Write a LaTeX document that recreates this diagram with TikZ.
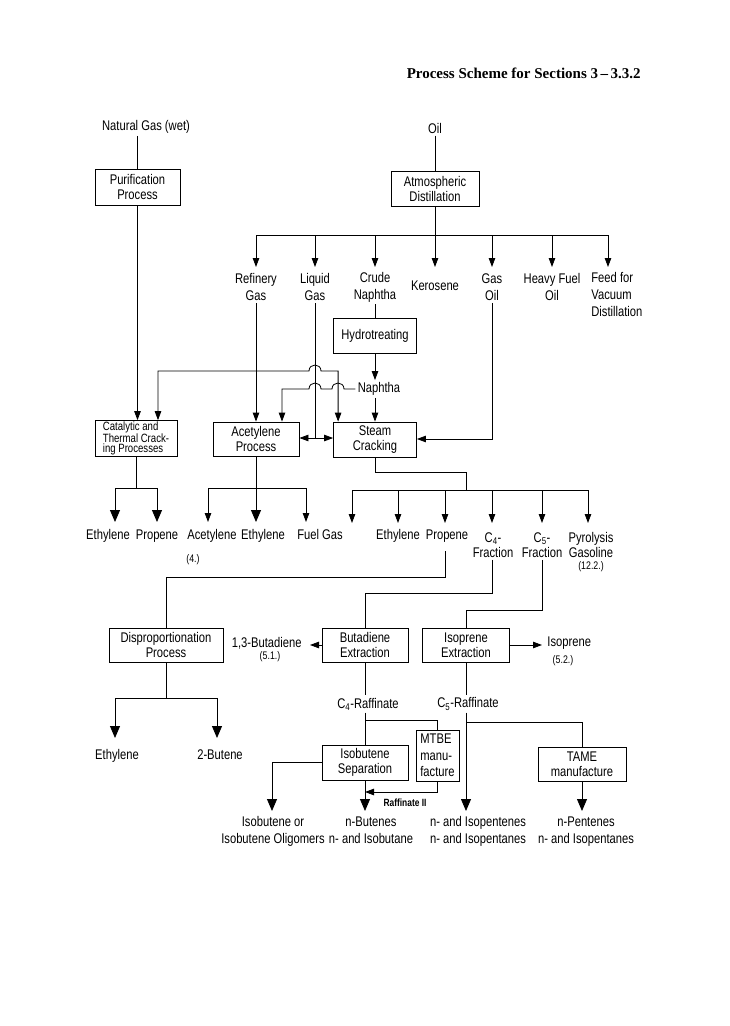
\documentclass[tikz,border=0pt]{standalone}
\usepackage{fontspec}
\setmainfont{Liberation Sans}[FakeStretch=0.8]
\newfontfamily\titlefont{Liberation Serif}
\usetikzlibrary{arrows.meta,calc}
\newcommand\labfont{\fontsize{14}{17}\selectfont}
\newcommand\boxfont{\fontsize{14}{15}\selectfont}
\newcommand\fracfont{\fontsize{14}{15}\selectfont}
\newcommand\catfont{\fontsize{12}{10.5}\selectfont}
\newcommand\reffont{\fontsize{11}{12}\selectfont}
\newcommand\mtbefont{\fontsize{14}{16.5}\selectfont}
\tikzset{
  arr/.style={-{Triangle[length=9pt,width=6.5pt]}},
  bigarr/.style={-{Triangle[length=12pt,width=10pt]}},
  dblarr/.style={{Triangle[length=9pt,width=6.5pt]}-{Triangle[length=9pt,width=6.5pt]}},
  box/.style={draw, inner sep=1pt, align=center, font=\boxfont},
  lab/.style={inner sep=2pt, align=center, font=\labfont},
  rowlab/.style={inner sep=2pt, font=\labfont, anchor=base},
  reflab/.style={inner sep=1pt, font=\reffont},
}
\begin{document}
\begin{tikzpicture}[x=1pt,y=-1pt,line width=0.8pt]
\useasboundingbox (0,0) rectangle (729,1026);
\node[anchor=east,inner sep=0pt,font=\titlefont\bfseries\fontsize{15}{18}\selectfont] (title) at (641,73) {Process Scheme for Sections 3\,–\,3.3.2};

% sources
\node[lab] (ng) at (146,127) {Natural Gas (wet)};
\node[lab] (oil) at (435,128) {Oil};
\node[box,minimum width=85,minimum height=36] (pur) at (137.5,187) {Purification\\Process};
\node[box,minimum width=88,minimum height=35] (atm) at (435,188.5) {Atmospheric\\Distillation};
\draw (ng.south -| pur.north) -- (pur.north);
\draw (oil) -- (atm);

% distillation products
\node[lab] (rg) at (256,287) {Refinery\\Gas};
\node[lab] (lg) at (315,287) {Liquid\\Gas};
\node[lab] (cn) at (375,287) {Crude\\Naphtha};
\node[lab] (ker) at (435,286) {Kerosene};
\node[lab] (go) at (492,287) {Gas\\Oil};
\node[lab] (hfo) at (552,287) {Heavy Fuel\\Oil};
\node[lab,align=left,anchor=north west] (ffv) at (589,270) {Feed for\\Vacuum\\Distillation};
\coordinate (dj) at (435,235);
\coordinate (fft) at (608,267);
\draw (atm.south) -- (dj);
\draw (rg.north |- dj) -- (fft |- dj);
\foreach \n in {rg,lg,cn,go,hfo} \draw[arr] (\n.north |- dj) -- (\n.north |- fft);
\draw[arr] (dj) -- (ker.north |- fft);
\draw[arr] (fft |- dj) -- (fft);

% processes
\node[box,minimum width=83,minimum height=35] (hyd) at (375,335.5) {Hydrotreating};
\node[box,font=\catfont,align=left,minimum width=82,minimum height=33] (cat) at (136,438.5) {Catalytic and\\Thermal Crack-\\ing Processes};
\node[box,minimum width=86,minimum height=34] (acp) at (256,439) {Acetylene\\Process};
\node[box,minimum width=83,minimum height=35] (stc) at (375,439.5) {Steam\\Cracking};
\node[lab] (nap) at (379,389) {Naphtha};

\draw (cn.south) -- (hyd.north);
\draw[arr] (hyd.south) -- (nap.north -| hyd.south);
\draw[arr] (nap.south -| stc.north) -- (stc.north);
\draw[arr] (pur.south) -- (cat.north -| pur.south);
\draw[arr] (rg.south) -- (acp.north);
\coordinate (lgj) at (315,438);
\draw (lg.south) -- (lgj);
\draw[arr] (lgj) -- (acp.east |- lgj);
\draw[arr] (lgj) -- (stc.west |- lgj);
\coordinate (goj) at (492,439);
\draw[arr] (go.south) -- (goj) -- (stc.east |- goj);

% naphtha to acetylene process (with hops)
\coordinate (acpin) at ($(acp.north)+(26,0)$);
\draw[arr] (nap.west) -- (344,389) .. controls (344,381) and (332,381) .. (332,389) -- (321,389) .. controls (321,381) and (309,381) .. (309,389) -- (acpin |- nap.west) -- (acpin);

% catalytic <-> steam cracking line
\coordinate (catin) at ($(cat.north)+(22,0)$);
\coordinate (stcin) at ($(stc.north west)+(5,0)$);
\coordinate (h1) at (0,371);
\draw[dblarr] (catin) -- (catin |- h1) -- (309,371) .. controls (309,363) and (321,363) .. (321,371) -- (stcin |- h1) -- (stcin);

% product row
\node[rowlab] (eth1) at (108,539) {Ethylene};
\node[rowlab] (pro1) at (157,539) {Propene};
\node[rowlab] (acet) at (212,539) {Acetylene};
\node[rowlab] (eth2) at (263,539) {Ethylene};
\node[rowlab] (fuel) at (320,539) {Fuel Gas};
\node[rowlab] (eth3) at (398,539) {Ethylene};
\node[rowlab] (pro2) at (447,539) {Propene};
\node[lab,font=\fracfont] (c4f) at (493,545) {C\textsubscript{4}-\\Fraction};
\node[lab,font=\fracfont] (c5f) at (542,545) {C\textsubscript{5}-\\Fraction};
\node[lab,font=\fracfont] (pyr) at (591,545) {Pyrolysis\\Gasoline};
\node[reflab] (r4) at (193,560) {(4.)};
\node[reflab] (r122) at (591,567) {(12.2.)};

\coordinate (r1) at (0,488);
\coordinate (a-eth1) at (115,522);
\coordinate (a-pro1) at (157,522);
\coordinate (a-acet) at (208,522);
\coordinate (a-eth2) at (256,522);
\coordinate (a-fuel1) at (306,522);
\draw (cat.south) -- (cat.south |- r1);
\draw (a-eth1 |- r1) -- (a-pro1 |- r1);
\draw[bigarr] (a-eth1 |- r1) -- (a-eth1);
\draw[bigarr] (a-pro1 |- r1) -- (a-pro1);
\draw (acp.south) -- (acp.south |- r1);
\draw (a-acet |- r1) -- (a-fuel1 |- r1);
\draw[arr] (a-acet |- r1) -- (a-acet);
\draw[bigarr] (a-eth2 |- r1) -- (a-eth2);
\draw[arr] (a-fuel1 |- r1) -- (a-fuel1);

\coordinate (s1) at (466,472);
\coordinate (r2) at (0,490);
\coordinate (a-fuel2) at (352,523);
\coordinate (a-eth3) at (398,523);
\coordinate (a-pro2) at (445,523);
\coordinate (a-c4) at (492,523);
\coordinate (a-c5) at (542,523);
\coordinate (a-pyr) at (588,523);
\draw (stc.south) -- (stc.south |- s1) -- (s1) -- (s1 |- r2);
\draw (a-fuel2 |- r2) -- (a-pyr |- r2);
\foreach \n in {fuel2,eth3,pro2,c4,c5,pyr} \draw[arr] (a-\n |- r2) -- (a-\n);

% second stage
\node[box,minimum width=114,minimum height=34] (dis) at (166,645) {Disproportionation\\Process};
\node[box,minimum width=86,minimum height=34] (but) at (365,645) {Butadiene\\Extraction};
\node[box,minimum width=87,minimum height=34] (iso) at (466,645) {Isoprene\\Extraction};
\coordinate (p2) at (445,577);
\draw[shorten <=7pt] (pro2.south -| p2) -- (p2) -- (p2 -| dis.north) -- (dis.north);
\coordinate (c4j) at (492,593);
\draw (c4f.south -| c4j) -- (c4j) -- (c4j -| but.north) -- (but.north);
\coordinate (c5j) at (542,610);
\draw (c5f.south -| c5j) -- (c5j) -- (c5j -| iso.north) -- (iso.north);

\node[lab,anchor=east] (bd) at (304,643) {1,3-Butadiene};
\node[reflab] (r51) at (270,657) {(5.1.)};
\coordinate (bdt) at (310,645);
\draw[arr] (but.west) -- (bdt);
\node[lab,anchor=west] (isop) at (545,643) {Isoprene};
\node[reflab] (r52) at (563,661) {(5.2.)};
\coordinate (isot) at (542,645);
\draw[arr] (iso.east) -- (isot);

% disproportionation outputs
\coordinate (r3) at (0,698);
\coordinate (a-eth4) at (115,738);
\coordinate (a-bute) at (217,738);
\draw (dis.south) -- (dis.south |- r3);
\draw (a-eth4 |- r3) -- (a-bute |- r3);
\draw[bigarr] (a-eth4 |- r3) -- (a-eth4);
\draw[bigarr] (a-bute |- r3) -- (a-bute);
\node[rowlab] (eth4) at (117,759) {Ethylene};
\node[rowlab] (bute) at (220,759) {2-Butene};

% raffinates
\node[lab] (c4r) at (368,704) {C\textsubscript{4}-Raffinate};
\node[lab] (c5r) at (468,704) {C\textsubscript{5}-Raffinate};
\node[box,minimum width=86,minimum height=35] (ibs) at (365,762.5) {Isobutene\\Separation};
\node[box,font=\mtbefont,align=left,minimum width=43,minimum height=51] (mtbe) at (437.5,755.5) {MTBE\\manu-\\facture};
\node[box,minimum width=88,minimum height=34] (tame) at (582,764) {TAME\\manufacture};

\draw (but.south) -- (but.south |- c4r.north);
\draw (but.south |- c4r.south) -- (ibs.north);
\coordinate (mj) at (0,720);
\draw (ibs.north |- mj) -- (mtbe.north |- mj) -- (mtbe.north);
\draw (iso.south) -- (iso.south |- c5r.north);
\coordinate (tj) at (0,722);
\draw (iso.south |- tj) -- (tame.north |- tj) -- (tame.north);

% final products
\node[lab,anchor=north] (ibo) at (273,814) {Isobutene or\\Isobutene Oligomers};
\node[lab,anchor=north] (nbut) at (371,814) {n-Butenes\\n- and Isobutane};
\node[lab,anchor=north] (nisop) at (478,814) {n- and Isopentenes\\n- and Isopentanes};
\node[lab,anchor=north] (npent) at (586,814) {n-Pentenes\\n- and Isopentanes};

\coordinate (ibl) at (272,0);
\draw[bigarr,shorten >=3pt] (ibs.west) -- (ibs.west -| ibl) -- (ibl |- ibo.north);
\draw[bigarr,shorten >=3pt] (ibs.south) -- (ibs.south |- nbut.north);
\draw[bigarr,shorten >=3pt] (iso.south |- c5r.south) -- (iso.south |- nisop.north);
\draw[bigarr,shorten >=3pt] (tame.south) -- (tame.south |- npent.north);

\coordinate (rj) at (438,792);
\draw[arr] (mtbe.south) -- (mtbe.south |- rj) -- (ibs.south |- rj);
\node[font=\bfseries\fontsize{10.5}{12}\selectfont, inner sep=1pt] (raf2) at (405,803) {Raffinate II};
\end{tikzpicture}
\end{document}
